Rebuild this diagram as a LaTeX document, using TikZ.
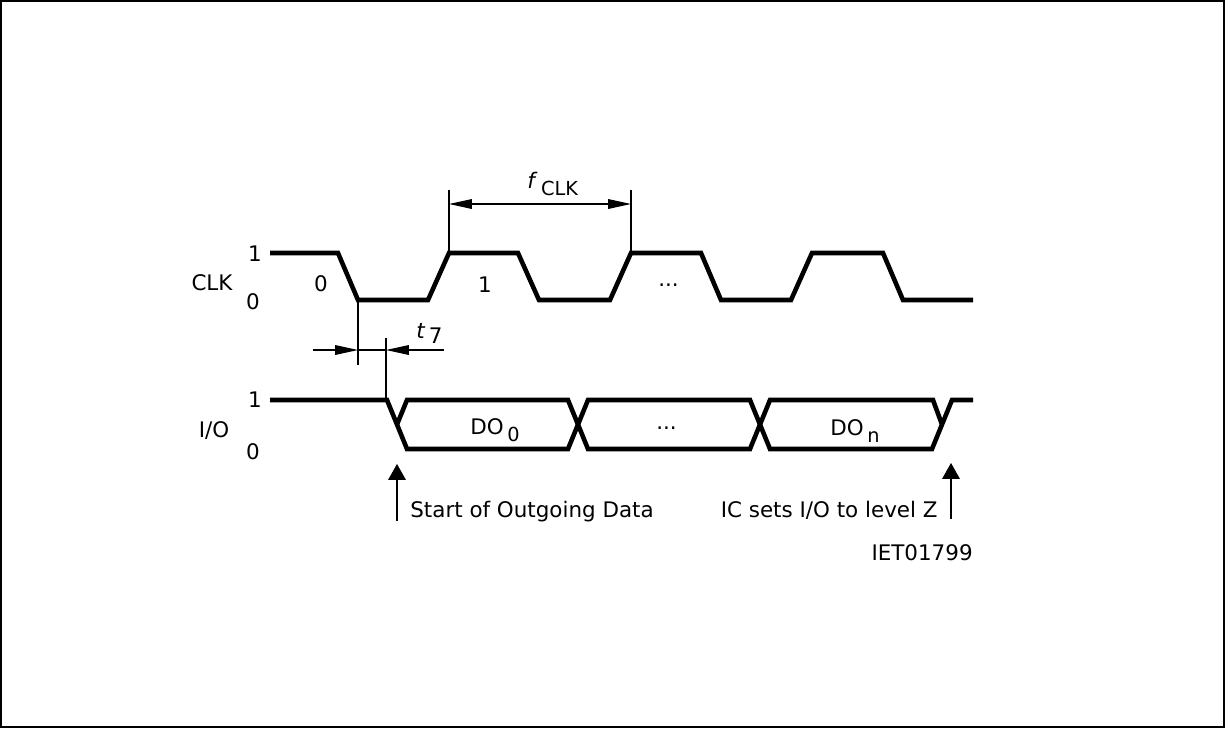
\documentclass[tikz,border=0pt]{standalone}
\usepackage{fontspec}
\setmainfont{DejaVu Sans}
\usetikzlibrary{arrows.meta}
\newcommand{\lowidx}[1]{\raisebox{-4pt}{\fontsize{11pt}{12pt}\selectfont #1}}
\tikzset{
  wave/.style={line width=2.6pt},
  hairline/.style={line width=0.6pt},
  dimarrow/.style={hairline,-{Triangle[length=13pt,width=5.5pt]}},
  dimboth/.style={hairline,{Triangle[length=13pt,width=5.5pt]}-{Triangle[length=13pt,width=5.5pt]}},
  markarrow/.style={hairline,-{Triangle[length=9pt,width=10pt]}},
  lbl/.style={inner sep=0pt,font=\fontsize{12.2pt}{14pt}\selectfont}
}
\begin{document}
\begin{tikzpicture}[x=0.02cm,y=-0.02cm]
\useasboundingbox (0,0) rectangle (1225,728);
\draw[line width=1.1pt] (1,1) rectangle (1224,727);
% clock and data lines
\draw[wave] (270,253) -- (338,253) -- (358,300) -- (428,300) -- (449,253) -- (518,253) -- (539,300) -- (610,300) -- (631,253) -- (701,253) -- (721,300) -- (791,300) -- (812,253) -- (883,253) -- (903,300) -- (973,300);
\draw[wave] (270,400) -- (387,400) -- (407,449) -- (568,449) -- (588,400) -- (750,400) -- (770,449) -- (932,449) -- (952,400) -- (973,400);
\draw[wave] (397,424.5) -- (407,400) -- (568,400) -- (588,449) -- (750,449) -- (770,400) -- (933,400) -- (942,424.5);
% levels
\node[lbl] (clk) at (212,283) {CLK};
\node[lbl] (clkhi) at (255,254) {1};
\node[lbl] (clklo) at (253,302) {0};
\node[lbl] (io) at (214,431) {I/O};
\node[lbl] (iohi) at (255,400) {1};
\node[lbl] (iolo) at (253,452) {0};
\node[lbl] (bit0) at (321,284) {0};
\node[lbl] (bit1) at (485,285) {1};
\node[lbl,anchor=base west] (clkdots) at (658,286) {...};
\node[lbl,anchor=base west] (iodots) at (656,429) {...};
\node[lbl,anchor=base west] (dofirst) at (470,434) {DO\,\lowidx{0}};
\node[lbl,anchor=base west] (dolast) at (830,435) {DO\,\lowidx{n}};
% f_CLK
\coordinate (fL) at (449,204);
\coordinate (fR) at (631,204);
\draw[hairline] (449,190) -- (449,253);
\draw[hairline] (631,190) -- (631,253);
\draw[dimboth] (fL) -- (fR);
\node[lbl,anchor=base west] (fclk) at (527,188) {\textit{f}\,\lowidx{CLK}};
% t_7
\coordinate (tA) at (358,350);
\coordinate (tB) at (386,350);
\coordinate (tAfar) at (313,350);
\coordinate (tBfar) at (444,350);
\draw[hairline] (358,300) -- (358,365);
\draw[hairline] (386,338) -- (386,400);
\draw[dimarrow] (tAfar) -- (tA);
\draw[dimarrow] (tBfar) -- (tB);
\draw[hairline] (tA) -- (tB);
\node[lbl,anchor=base west] (tseven) at (416,338) {\textit{t}\,\raisebox{-3pt}{7}};
% markers
\coordinate (startfoot) at (397,521);
\coordinate (starttip) at (397,464);
\coordinate (zfoot) at (951,519);
\coordinate (ztip) at (951,463);
\draw[markarrow] (startfoot) -- (starttip);
\draw[markarrow] (zfoot) -- (ztip);
\node[lbl,anchor=base west] (startlbl) at (410,517) {Start of Outgoing Data};
\node[lbl,anchor=base east] (zlbl) at (938,517) {IC sets I/O to level Z};
\node[lbl,anchor=base east] (figid) at (973,560) {IET01799};
\end{tikzpicture}
\end{document}
